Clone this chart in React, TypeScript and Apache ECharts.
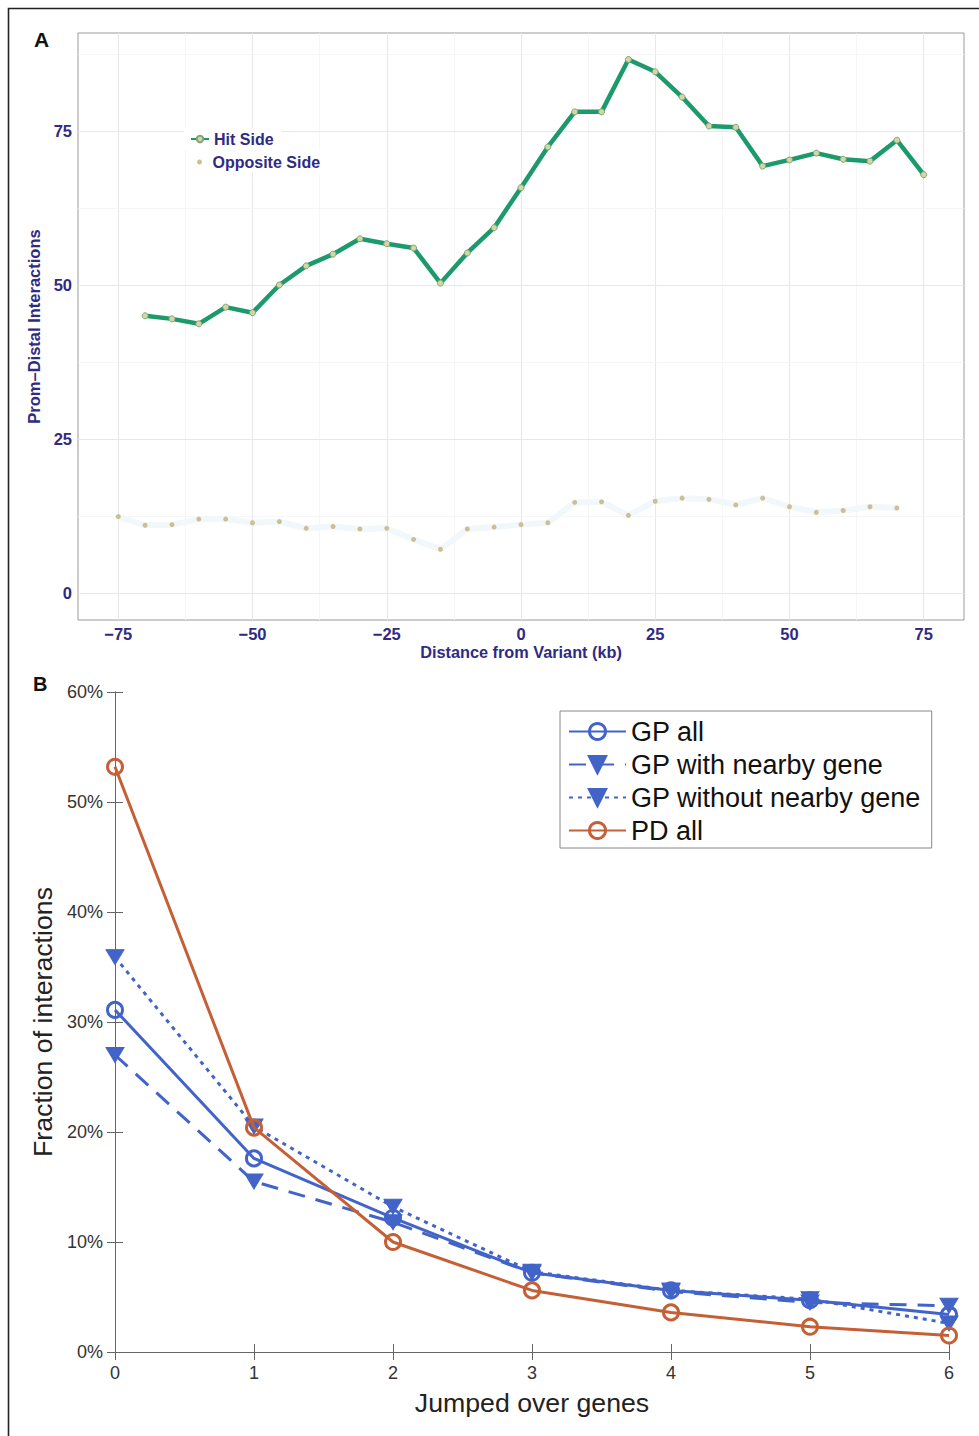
import React, { useEffect, useRef } from "react";
import * as echarts from "echarts";

// ---------- Panel A data ----------
const hitX = [-70, -65, -60, -55, -50, -45, -40, -35, -30, -25, -20, -15, -10, -5, 0, 5, 10, 15, 20, 25, 30, 35, 40, 45, 50, 55, 60, 65, 70, 75];
const hitY = [45.0, 44.5, 43.7, 46.4, 45.5, 50.0, 53.1, 55.0, 57.5, 56.7, 56.0, 50.3, 55.2, 59.3, 65.8, 72.4, 78.1, 78.1, 86.6, 84.6, 80.5, 75.8, 75.6, 69.3, 70.3, 71.4, 70.4, 70.1, 73.5, 67.9];
const oppX = [-75, -70, -65, -60, -55, -50, -45, -40, -35, -30, -25, -20, -15, -10, -5, 0, 5, 10, 15, 20, 25, 30, 35, 40, 45, 50, 55, 60, 65, 70];
const oppY = [12.4, 11.0, 11.1, 12.0, 12.0, 11.4, 11.6, 10.5, 10.8, 10.4, 10.5, 8.7, 7.1, 10.4, 10.7, 11.1, 11.4, 14.7, 14.8, 12.6, 14.9, 15.4, 15.2, 14.3, 15.4, 14.0, 13.1, 13.4, 14.0, 13.8];
const aXTicks = [-75, -50, -25, 0, 25, 50, 75];
const aYTicks = [0, 25, 50, 75];
const aXMinor = [-62.5, -37.5, -12.5, 12.5, 37.5, 62.5];
const aYMinor = [12.5, 37.5, 62.5, 87.5];

// ---------- Panel B data ----------
const jumped = [0, 1, 2, 3, 4, 5, 6];
const gpAll = [0.311, 0.176, 0.122, 0.072, 0.056, 0.047, 0.034];
const gpWith = [0.27, 0.155, 0.118, 0.072, 0.055, 0.045, 0.042];
const gpWithout = [0.359, 0.205, 0.132, 0.073, 0.056, 0.048, 0.026];
const pdAll = [0.532, 0.204, 0.1, 0.056, 0.036, 0.023, 0.015];

const FONT = "'Liberation Sans', Arial, Helvetica, sans-serif";
const NAVY = "#2f2b83";
const BLUE = "#4264c8";
const ORANGE = "#c55f35";

export default function App() {
  const ref = useRef<HTMLDivElement>(null);
  useEffect(() => {
    if (!ref.current) return;
    const chart = echarts.init(ref.current, null, { renderer: "svg" });
    const minus = (v: number) => (v < 0 ? "\u2212" + Math.abs(v) : String(v));
    const gridLines = [
      ...aXTicks.map((v) => ({ xAxis: v, lineStyle: { color: "#e8e8e8", width: 1.1, type: "solid" } })),
      ...aXMinor.map((v) => ({ xAxis: v, lineStyle: { color: "#f4f4f4", width: 0.8, type: "solid" } })),
      ...aYTicks.map((v) => ({ yAxis: v, lineStyle: { color: "#e8e8e8", width: 1.1, type: "solid" } })),
      ...aYMinor.map((v) => ({ yAxis: v, lineStyle: { color: "#f4f4f4", width: 0.8, type: "solid" } })),
    ];
    const bSeries = (name: string, data: number[], type: any, symbol: string, hollow: boolean, color: string, z: number) => ({
      name,
      type: "line",
      xAxisIndex: 1,
      yAxisIndex: 1,
      data: jumped.map((x, i) => [x, data[i]]),
      lineStyle: { color, width: 3, type, cap: "butt" },
      symbol,
      symbolRotate: symbol === "triangle" ? 180 : 0,
      symbolSize: symbol === "triangle" ? [18, 15] : 15,
      itemStyle: hollow
        ? { color: "rgba(255,255,255,0)", borderColor: color, borderWidth: 3 }
        : { color, borderColor: color, borderWidth: 1 },
      z,
    });
    const aLegendText = { fontSize: 16, fontWeight: "bold", color: NAVY, fontFamily: FONT };
    chart.setOption({
      animation: false,
      textStyle: { fontFamily: FONT },
      grid: [
        { left: 78, top: 33, width: 886, height: 587, show: true, borderColor: "#9a9a9a", borderWidth: 1, backgroundColor: "#fff" },
        { left: 115, top: 692, width: 834, height: 660 },
      ],
      xAxis: [
        {
          type: "value",
          gridIndex: 0,
          min: -82.5,
          max: 82.5,
          axisLine: { show: false },
          axisTick: { show: true, customValues: aXTicks, length: 4, lineStyle: { color: "#555" } },
          axisLabel: { customValues: aXTicks, formatter: minus, fontSize: 16.5, fontWeight: "bold", color: NAVY, margin: 5, fontFamily: FONT },
          splitLine: { show: false },
          name: "Distance from Variant (kb)",
          nameLocation: "middle",
          nameGap: 24,
          nameTextStyle: { fontSize: 16.3, fontWeight: "bold", color: NAVY, fontFamily: FONT },
        },
        {
          type: "value",
          gridIndex: 1,
          min: 0,
          max: 6,
          interval: 1,
          axisLine: { lineStyle: { color: "#666", width: 1 } },
          axisTick: { inside: true, length: 8, lineStyle: { color: "#666" } },
          axisLabel: { fontSize: 18, color: "#333", margin: 12, fontFamily: FONT },
          splitLine: { show: false },
          name: "Jumped over genes",
          nameLocation: "middle",
          nameGap: 37,
          nameTextStyle: { fontSize: 26.7, color: "#222", fontFamily: FONT },
        },
        {
          type: "value",
          gridIndex: 1,
          position: "top",
          min: 0,
          max: 6,
          interval: 1,
          axisLine: { show: true, lineStyle: { color: "#666", width: 1 } },
          axisTick: { inside: true, length: 8, lineStyle: { color: "#666" } },
          axisLabel: { show: false },
          splitLine: { show: false },
        },
      ],
      yAxis: [
        {
          type: "value",
          gridIndex: 0,
          min: -4.38,
          max: 90.9,
          axisLine: { show: false },
          axisTick: { show: true, customValues: aYTicks, length: 4, lineStyle: { color: "#555" } },
          axisLabel: { customValues: aYTicks, formatter: minus, fontSize: 16.5, fontWeight: "bold", color: NAVY, margin: 6, fontFamily: FONT },
          splitLine: { show: false },
          name: "Prom\u2013Distal Interactions",
          nameLocation: "middle",
          nameGap: 29,
          nameTextStyle: { fontSize: 16.5, fontWeight: "bold", color: NAVY, fontFamily: FONT },
        },
        {
          type: "value",
          gridIndex: 1,
          min: 0,
          max: 0.6,
          interval: 0.1,
          axisLine: { show: true, lineStyle: { color: "#666", width: 1 } },
          axisTick: { show: true, inside: true, length: 8, lineStyle: { color: "#666" } },
          axisLabel: { formatter: (v: number) => Math.round(v * 100) + "%", fontSize: 18, color: "#333", margin: 12, fontFamily: FONT },
          splitLine: { show: false },
          name: "Fraction of interactions",
          nameLocation: "middle",
          nameGap: 57,
          nameTextStyle: { fontSize: 26.7, color: "#222", fontFamily: FONT },
        },
        {
          type: "value",
          gridIndex: 1,
          position: "right",
          min: 0,
          max: 0.6,
          interval: 0.1,
          axisLine: { show: true, lineStyle: { color: "#666", width: 1 } },
          axisTick: { show: true, inside: true, length: 8, lineStyle: { color: "#666" } },
          axisLabel: { show: false },
          splitLine: { show: false },
        },
      ],
      legend: [
        {
          data: ["Hit Side"],
          left: 184,
          top: 128,
          padding: [3, 8, 3, 6],
          backgroundColor: "#fff",
          itemWidth: 18,
          itemHeight: 8,
          z: 6,
          textStyle: aLegendText,
        },
        {
          data: [{ name: "Opposite Side", icon: "circle" }],
          left: 191,
          top: 151,
          padding: [3, 8, 3, 6],
          backgroundColor: "#fff",
          itemWidth: 16,
          itemHeight: 5,
          z: 6,
          textStyle: aLegendText,
        },
        {
          data: ["GP all", "GP with nearby gene", "GP without nearby gene", "PD all"],
          orient: "vertical",
          left: 560,
          top: 711,
          padding: [7, 11, 4, 8],
          itemGap: 6,
          itemWidth: 57,
          itemHeight: 20,
          backgroundColor: "#fff",
          borderColor: "#888",
          borderWidth: 1,
          itemStyle: { borderWidth: 3 },
          z: 6,
          textStyle: { fontSize: 27, color: "#111", fontFamily: FONT },
        },
      ],
      graphic: [
        { type: "rect", shape: { x: 8.5, y: 8.5, width: 1000, height: 1500 }, style: { fill: "none", stroke: "#222", lineWidth: 1.6 }, silent: true, z: -10 },
        { type: "text", left: 34, top: 29, style: { text: "A", fontSize: 21, fontWeight: "bold", fill: "#111", fontFamily: FONT } },
        { type: "text", left: 33, top: 674, style: { text: "B", fontSize: 20, fontWeight: "bold", fill: "#111", fontFamily: FONT } },
      ],
      series: [
        {
          type: "line",
          xAxisIndex: 0,
          yAxisIndex: 0,
          data: [],
          silent: true,
          z: 0,
          markLine: { silent: true, z: 1, symbol: ["none", "none"], label: { show: false }, data: gridLines },
        },
        {
          name: "Opposite Side",
          type: "line",
          xAxisIndex: 0,
          yAxisIndex: 0,
          data: oppX.map((x, i) => [x, oppY[i]]),
          lineStyle: { color: "#f1f7fb", width: 6 },
          symbol: "circle",
          symbolSize: 5,
          itemStyle: { color: "#cbbf94", borderWidth: 0 },
          z: 2,
        },
        {
          name: "Hit Side",
          type: "line",
          xAxisIndex: 0,
          yAxisIndex: 0,
          data: hitX.map((x, i) => [x, hitY[i]]),
          lineStyle: { color: "#1d9a6c", width: 4.5 },
          symbol: "circle",
          symbolSize: 6,
          itemStyle: { color: "#d2d89e", borderColor: "#7fa482", borderWidth: 1 },
          z: 3,
        },
        bSeries("GP all", gpAll, "solid", "circle", true, BLUE, 4),
        bSeries("GP with nearby gene", gpWith, [17, 11], "triangle", false, BLUE, 4),
        bSeries("GP without nearby gene", gpWithout, [4, 5], "triangle", false, BLUE, 4),
        bSeries("PD all", pdAll, "solid", "circle", true, ORANGE, 5),
      ],
    });
    return () => chart.dispose();
  }, []);
  return <div ref={ref} style={{ position: "absolute", left: 0, top: 0, width: 979, height: 1436, background: "#fff" }} />;
}
